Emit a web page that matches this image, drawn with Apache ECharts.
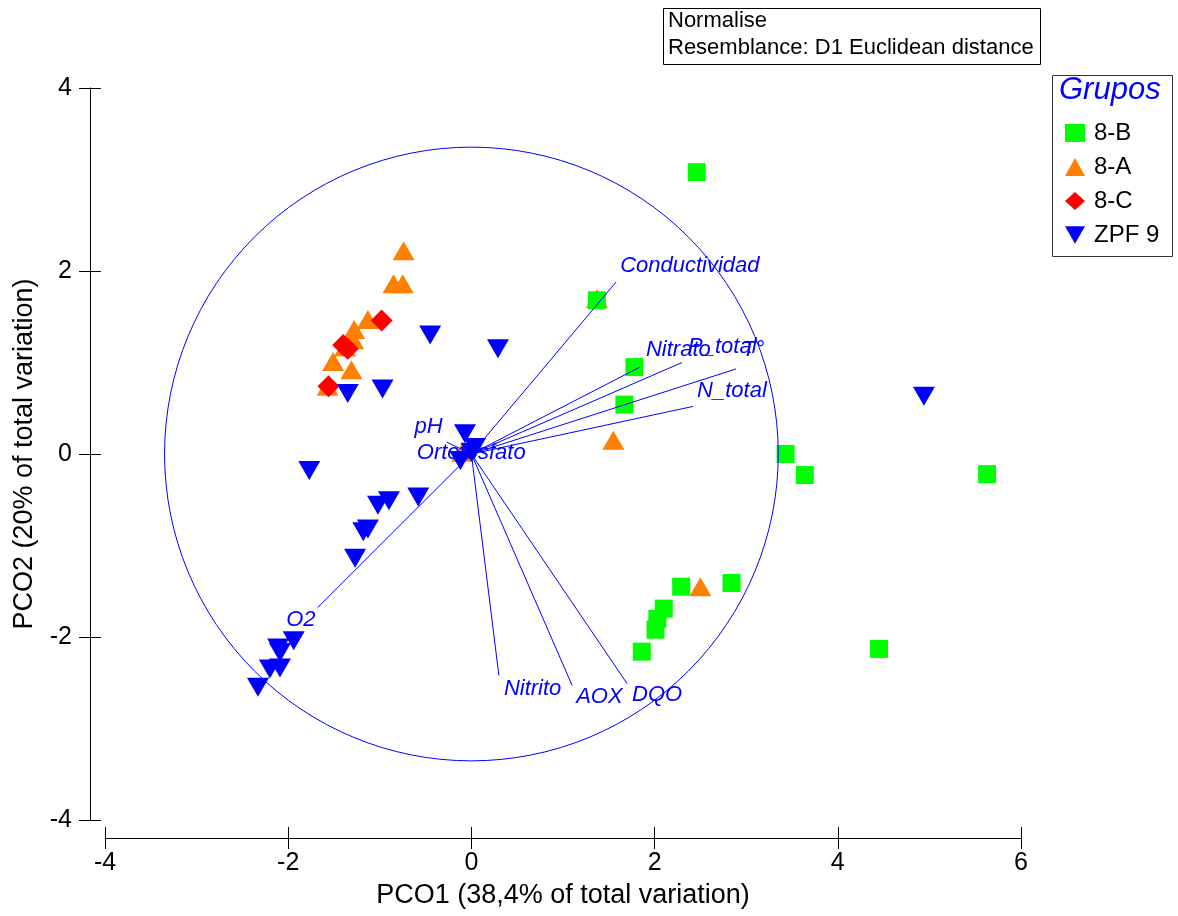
<!DOCTYPE html>
<html>
<head>
<meta charset="utf-8">
<script src="https://cdn.jsdelivr.net/npm/echarts@6/dist/echarts.min.js"></script>
<style>html,body{margin:0;padding:0;background:#fff}#c{width:1178px;height:916px}</style>
</head>
<body>
<div id="c"></div>
<script>
// ---------- data ----------
const groupNames = ['8-B', '8-A', '8-C', 'ZPF 9'];
const xTicks = [-4, -2, 0, 2, 4, 6];
const yTicks = [-4, -2, 0, 2, 4];

const pts8B = [
  [2.46, 3.08], [1.37, 1.68], [1.78, 0.95], [1.67, 0.54], [3.43, 0.00], [3.64, -0.23],
  [5.63, -0.22], [2.84, -1.41], [2.29, -1.45], [2.10, -1.69], [2.03, -1.80], [2.01, -1.92],
  [1.86, -2.16], [4.45, -2.13]
];
const pts8A = [
  [-0.74, 2.22], [-0.85, 1.86], [-0.75, 1.86], [-1.13, 1.47], [-1.28, 1.36], [-1.29, 1.25],
  [-1.38, 1.17], [-1.51, 1.01], [-1.31, 0.92], [-1.57, 0.74], [1.37, 1.70], [1.55, 0.15],
  [2.50, -1.45], [-0.10, 0.02]
];
const pts8C = [
  [-0.98, 1.46], [-1.40, 1.19], [-1.35, 1.15], [-1.56, 0.74]
];
const ptsZPF9 = [
  [-0.45, 1.30], [0.29, 1.15], [-0.97, 0.71], [-1.35, 0.66], [-1.77, -0.18], [-0.58, -0.47],
  [-0.90, -0.51], [-1.02, -0.56], [-1.13, -0.82], [-1.18, -0.85], [-1.27, -1.14], [-1.94, -2.04],
  [-2.09, -2.17], [-2.11, -2.12], [-2.09, -2.34], [-2.20, -2.35], [-2.33, -2.55], [4.94, 0.63],
  [-0.07, 0.22], [0.04, 0.07], [-0.12, -0.07], [0.00, 0.02]
];

const vectorNames = ['Conductividad', 'Nitrato', 'P_total', 'T°', 'N_total', 'pH', 'Ortofosfato', 'O2', 'Nitrito', 'AOX', 'DQO'];
const vectorX = [1.58, 1.84, 2.30, 2.89, 2.42, -0.27, -0.05, -1.68, 0.30, 1.10, 1.70];
const vectorY = [1.88, 0.95, 1.00, 0.93, 0.52, 0.13, -0.02, -1.68, -2.42, -2.53, -2.51];
const circleRadius = 3.35;

// ---------- styles ----------
const FONT = "'Liberation Sans', Arial, Helvetica, sans-serif";
const BLUE = '#0000ff';
const labelOffsets = {
  'Conductividad': [4, -16, 'left'],
  'Nitrato': [6, -17, 'left'],
  'P_total': [6, -16, 'left'],
  'T°': [6, -19, 'left'],
  'N_total': [4, -16, 'left'],
  'pH': [-4, -15, 'right'],
  'Ortofosfato': [-50, -3, 'left'],
  'O2': [-2, 12, 'right'],
  'Nitrito': [5, 13, 'left'],
  'AOX': [4, 11, 'left'],
  'DQO': [5, 11, 'left']
};

const chart = echarts.init(document.getElementById('c'), null, {renderer: 'canvas'});

function xAxisCfg(main) {
  return {
    type: 'value', min: xTicks[0], max: xTicks[xTicks.length - 1], interval: 2,
    position: 'bottom', offset: 18, gridIndex: 0,
    axisLine: {show: main, onZero: false, lineStyle: {color: '#000', width: 1}},
    axisTick: {show: true, inside: !main, length: 11, lineStyle: {color: '#000', width: 1}},
    axisLabel: {show: main, fontSize: 25, color: '#000', margin: 13, fontFamily: FONT},
    splitLine: {show: false},
    name: main ? 'PCO1 (38,4% of total variation)' : '',
    nameLocation: 'middle', nameGap: 44,
    nameTextStyle: {fontSize: 27, color: '#000', fontFamily: FONT}
  };
}
function yAxisCfg(main) {
  return {
    type: 'value', min: yTicks[0], max: yTicks[yTicks.length - 1], interval: 2,
    position: 'left', offset: 15, gridIndex: 0,
    axisLine: {show: main, onZero: false, lineStyle: {color: '#000', width: 1}},
    axisTick: {show: true, inside: !main, length: 11, lineStyle: {color: '#000', width: 1}},
    axisLabel: {show: main, fontSize: 25, color: '#000', margin: 18, fontFamily: FONT},
    splitLine: {show: false},
    name: main ? 'PCO2 (20% of total variation)' : '',
    nameLocation: 'middle', nameGap: 52,
    nameTextStyle: {fontSize: 27, color: '#000', fontFamily: FONT}
  };
}

const downTri = 'path://M0,0L22,0L11,19Z';

const option = {
  animation: false,
  backgroundColor: '#fff',
  grid: {left: 105, right: 157, top: 88, bottom: 96, containLabel: false, outerBoundsMode: 'none'},
  xAxis: [xAxisCfg(true), xAxisCfg(false)],
  yAxis: [yAxisCfg(true), yAxisCfg(false)],
  legend: {
    data: groupNames, orient: 'vertical', left: 1060, top: 116,
    itemWidth: 20, itemHeight: 18, itemGap: 10,
    textStyle: {fontSize: 24, color: '#000', fontFamily: FONT, padding: [0, 0, 0, 4]},
    selectedMode: false
  },
  graphic: [
    {type: 'rect', left: 663, top: 8, shape: {width: 377, height: 56}, style: {fill: '#fff', stroke: '#000', lineWidth: 1}, z: 100},
    {type: 'text', left: 668, top: 10, style: {text: 'Normalise', fontSize: 22, fill: '#000', fontFamily: FONT}, z: 101},
    {type: 'text', left: 668, top: 37, style: {text: 'Resemblance: D1 Euclidean distance', fontSize: 22, fill: '#000', fontFamily: FONT}, z: 101},
    {type: 'rect', left: 1050, top: 73, shape: {width: 120, height: 181}, style: {fill: 'none', stroke: '#333', lineWidth: 1}, z: 100},
    {type: 'text', left: 1059, top: 75, style: {text: 'Grupos', fontSize: 31, fontStyle: 'italic', fill: BLUE, fontFamily: FONT}, z: 101}
  ],
  series: [
    {name: '8-A', type: 'scatter', data: pts8A, symbol: 'triangle', symbolSize: [22, 19],
      itemStyle: {color: '#ff8000', opacity: 1}, z: 2},
    {name: '8-C', type: 'scatter', data: pts8C, symbol: 'diamond', symbolSize: [22, 22],
      itemStyle: {color: '#ff0000', opacity: 1}, z: 3},
    {name: '8-B', type: 'scatter', data: pts8B, symbol: 'rect', symbolSize: [18, 18],
      itemStyle: {color: '#00ff00', opacity: 1}, z: 4},
    {name: 'ZPF 9', type: 'scatter', data: ptsZPF9, symbol: downTri, symbolSize: [22, 19],
      itemStyle: {color: BLUE, opacity: 1}, z: 5},
    {type: 'custom', z: 6, silent: true, data: [[0, 0]],
      renderItem: function (params, api) {
        const c = api.coord([api.value(0), api.value(1)]);
        const s = api.size([circleRadius, circleRadius]);
        return {type: 'circle', shape: {cx: c[0], cy: c[1], r: s[0]},
          style: {fill: 'none', stroke: BLUE, lineWidth: 1}};
      }},
    {type: 'custom', z: 7, silent: true,
      data: vectorNames.map((n, i) => [vectorX[i], vectorY[i]]),
      renderItem: function (params, api) {
        const o = api.coord([0, 0]);
        const e = api.coord([api.value(0), api.value(1)]);
        const name = vectorNames[params.dataIndex];
        const off = labelOffsets[name];
        return {type: 'group', children: [
          {type: 'line', shape: {x1: o[0], y1: o[1], x2: e[0], y2: e[1]},
            style: {stroke: BLUE, lineWidth: 1}},
          {type: 'text', x: e[0] + off[0], y: e[1] + off[1],
            style: {text: name, fill: BLUE, fontSize: 22, fontStyle: 'italic', fontFamily: FONT,
              align: off[2], verticalAlign: 'middle'}}
        ]};
      }}
  ]
};
chart.setOption(option);
</script>
</body>
</html>
